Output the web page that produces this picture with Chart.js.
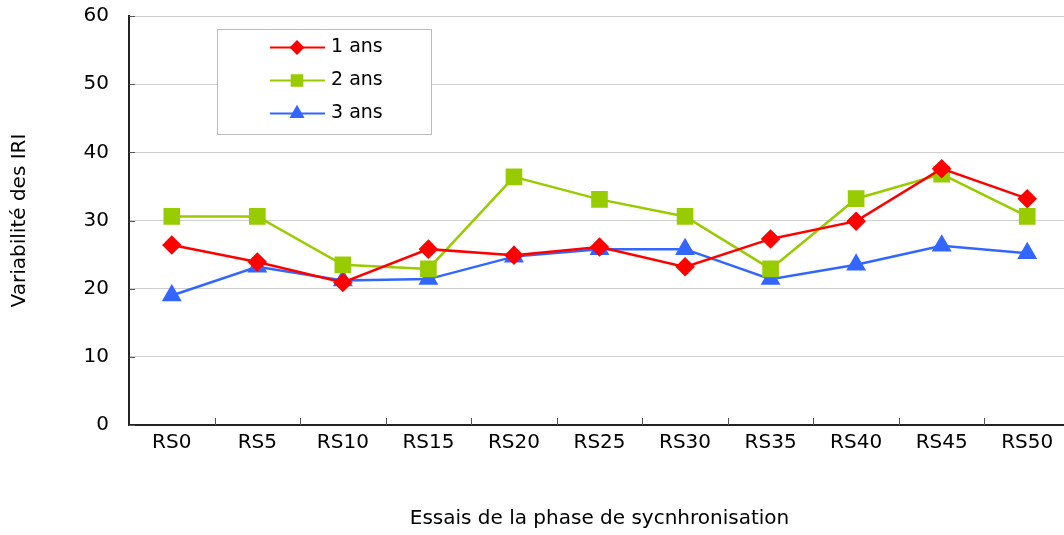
<!DOCTYPE html>
<html>
<head>
<meta charset="utf-8">
<script src="https://cdn.jsdelivr.net/npm/chart.js@4/dist/chart.umd.min.js"></script>
<style>
    html, body { margin: 0; padding: 0; background: #fff; overflow: hidden; }
    canvas { display: block; }
</style>
</head>
<body>
<canvas id="chart" width="1070" height="535"></canvas>
<script>
// Data
const categories = ['RS0', 'RS5', 'RS10', 'RS15', 'RS20', 'RS25', 'RS30', 'RS35', 'RS40', 'RS45', 'RS50'];
const seriesNames = ['1 ans', '2 ans', '3 ans'];
const values1 = [26.4, 23.9, 20.9, 25.8, 24.9, 26.1, 23.2, 27.3, 29.9, 37.6, 33.2];
const values2 = [30.6, 30.6, 23.5, 22.9, 36.4, 33.1, 30.6, 22.9, 33.2, 36.8, 30.6];
const values3 = [19.0, 23.2, 21.2, 21.4, 24.7, 25.8, 25.8, 21.4, 23.5, 26.3, 25.2];
const yTicks = [0, 10, 20, 30, 40, 50, 60];

const FONT = "'DejaVu Sans', sans-serif";

// Custom legend box + inward tick marks
const decorPlugin = {
    id: 'decor',
    afterDraw(chart) {
        const ctx = chart.ctx;
        const area = chart.chartArea;
        const xs = chart.scales.x;
        const ys = chart.scales.y;

        // inward ticks on x axis
        ctx.save();
        ctx.strokeStyle = '#555';
        ctx.lineWidth = 1;
        for (let i = 1; i < categories.length; i++) {
            const x = Math.round(xs.getPixelForValue(i - 0.5)) + 0.5;
            ctx.beginPath();
            ctx.moveTo(x, area.bottom);
            ctx.lineTo(x, area.bottom - 7);
            ctx.stroke();
        }
        // inward ticks on y axis
        yTicks.forEach(v => {
            const y = Math.round(ys.getPixelForValue(v)) + 0.5;
            ctx.beginPath();
            ctx.moveTo(area.left, y);
            ctx.lineTo(area.left + 6, y);
            ctx.stroke();
        });
        ctx.restore();

        // legend
        const bx = 217.5, by = 29.5, bw = 214, bh = 105;
        ctx.save();
        ctx.fillStyle = '#fff';
        ctx.fillRect(bx, by, bw, bh);
        ctx.strokeStyle = '#bbb';
        ctx.lineWidth = 1;
        ctx.strokeRect(bx, by, bw, bh);
        ctx.font = '19px ' + FONT;
        ctx.textBaseline = 'middle';
        chart.data.datasets.forEach((ds, i) => {
            const cy = by + 18 + i * 33;
            ctx.strokeStyle = ds.borderColor;
            ctx.lineWidth = 2;
            ctx.beginPath();
            ctx.moveTo(270, cy);
            ctx.lineTo(325, cy);
            ctx.stroke();
            ctx.fillStyle = ds.backgroundColor;
            ctx.strokeStyle = ds.backgroundColor;
            Chart.helpers.drawPoint(ctx, {
                pointStyle: ds.pointStyle,
                radius: ds.pointRadius * 0.75,
                rotation: 0,
                borderWidth: 1
            }, 297, cy);
            ctx.fillStyle = '#000';
            ctx.textAlign = 'left';
            ctx.fillText(ds.label, 331, cy);
        });
        ctx.restore();
    }
};

new Chart(document.getElementById('chart'), {
    type: 'line',
    data: {
        labels: categories,
        datasets: [
            {
                label: seriesNames[0],
                data: values1,
                borderColor: '#ff0000',
                backgroundColor: '#ff0000',
                pointStyle: 'rectRot',
                pointRadius: 8,
                borderWidth: 2.5,
                tension: 0
            },
            {
                label: seriesNames[1],
                data: values2,
                borderColor: '#99cc00',
                backgroundColor: '#99cc00',
                pointStyle: 'rect',
                pointRadius: 10,
                borderWidth: 2.5,
                tension: 0
            },
            {
                label: seriesNames[2],
                data: values3,
                borderColor: '#3366ff',
                backgroundColor: '#3366ff',
                pointStyle: 'triangle',
                pointRadius: 9,
                borderWidth: 2.5,
                tension: 0
            }
        ]
    },
    options: {
        responsive: false,
        animation: false,
        devicePixelRatio: 1,
        layout: { autoPadding: false, padding: { top: 16, right: 0, left: 0, bottom: 0 } },
        plugins: {
            legend: { display: false },
            tooltip: { enabled: false }
        },
        scales: {
            x: {
                offset: true,
                grid: { display: false, drawTicks: false },
                border: { display: true, color: '#222', width: 2 },
                ticks: {
                    color: '#000',
                    font: { family: FONT, size: 20 },
                    padding: 6,
                    maxRotation: 0
                },
                title: {
                    display: true,
                    text: 'Essais de la phase de sycnhronisation',
                    color: '#000',
                    font: { family: FONT, size: 20 },
                    padding: { top: 0, bottom: 4 }
                },
                afterFit: s => {
                    s.height = 110;
                    s.paddingLeft = 0;
                    s.paddingRight = 0;
                }
            },
            y: {
                min: 0,
                max: 60,
                afterBuildTicks: s => { s.ticks = yTicks.map(v => ({ value: v })); },
                grid: { color: '#cfcfcf', lineWidth: 1, drawTicks: false },
                border: { display: true, color: '#222', width: 2 },
                ticks: {
                    color: '#000',
                    font: { family: FONT, size: 20 },
                    padding: 20
                },
                title: {
                    display: true,
                    text: 'Variabilité des IRI',
                    color: '#000',
                    font: { family: FONT, size: 20 },
                    padding: { top: 8, bottom: 0 }
                },
                afterFit: s => {
                    s.width = 129;
                    s.paddingTop = 0;
                    s.paddingBottom = 0;
                }
            }
        }
    },
    plugins: [decorPlugin]
});
</script>
</body>
</html>
